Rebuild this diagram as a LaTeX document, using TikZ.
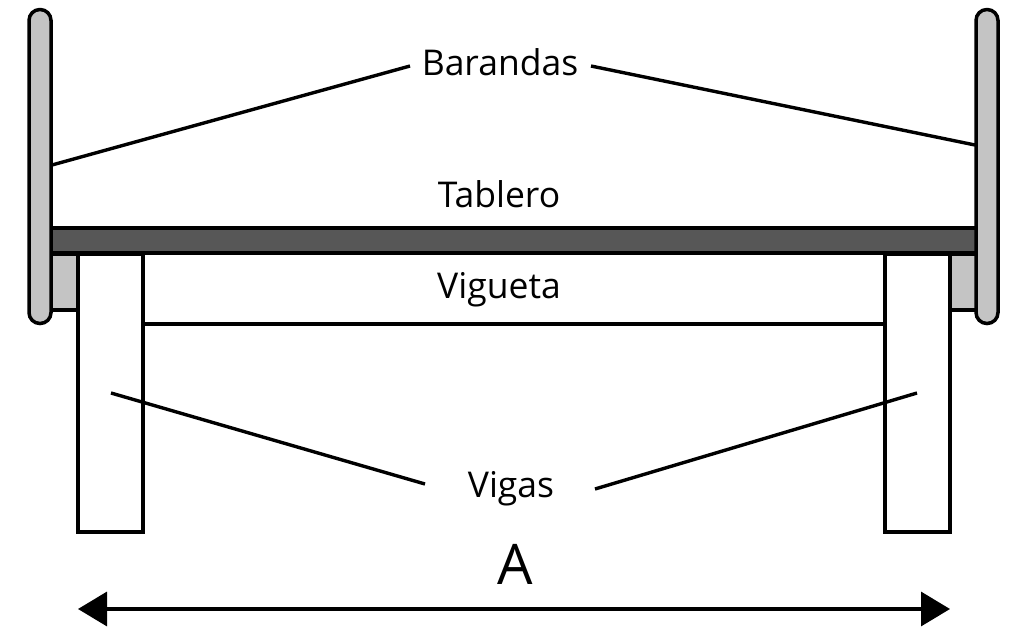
\documentclass[tikz,border=0pt]{standalone}
\usepackage{fontspec}
\setmainfont{Open Sans}
\usetikzlibrary{arrows.meta}
\definecolor{railgrey}{HTML}{C4C4C4}
\definecolor{deckgrey}{HTML}{575757}
\tikzset{
  part/.style={draw=black,line width=3.5pt,line join=miter},
  leader/.style={draw=black,line width=3.4pt},
  lab/.style={inner sep=0pt,font=\fontsize{35.5}{36}\selectfont,text=black},
  dim/.style={draw=black,line width=3.4pt,{Triangle[length=29pt,width=34pt]}-{Triangle[length=29pt,width=34pt]}}
}
\begin{document}
\begin{tikzpicture}[x=1pt,y=-1pt]
\useasboundingbox (0,0) rectangle (1021,627);
% small blocks
\path[part,fill=railgrey] (50,254) rectangle (78,310);
\path[part,fill=railgrey] (950,254) rectangle (977,310);
% beams
\path[part,fill=white] (78,254) rectangle (143,532);
\path[part,fill=white] (885,254) rectangle (950,532);
% deck
\path[part,fill=deckgrey] (50,228) rectangle (977,253);
% rails
\path[part,fill=railgrey,rounded corners=10.9pt] (29,9.5) rectangle (51,323.5);
\path[part,fill=railgrey,rounded corners=10.9pt] (976,9.5) rectangle (998,323.5);
% joist
\coordinate (jl) at (143,324);
\coordinate (jr) at (885,324);
\draw[leader] (jl) -- (jr);
% labels
\node[lab] (barandas) at (500,62) {Barandas};
\node[lab] (tablero) at (499,194) {Tablero};
\node[lab] (vigueta) at (499,290) {Vigueta};
\node[lab] (vigas) at (511,489) {Vigas};
\node[lab,font=\fontsize{56}{56}\selectfont] (a) at (515,564) {A};
% leaders
\coordinate (bl0) at (410,66);
\coordinate (bl1) at (52,165);
\coordinate (br0) at (591,66);
\coordinate (br1) at (975,145);
\coordinate (vl0) at (425,484);
\coordinate (vl1) at (111,393);
\coordinate (vr0) at (595,489);
\coordinate (vr1) at (917,393);
\draw[leader] (bl0) -- (bl1);
\draw[leader] (br0) -- (br1);
\draw[leader] (vl0) -- (vl1);
\draw[leader] (vr0) -- (vr1);
% dimension
\coordinate (dl) at (78,609);
\coordinate (dr) at (950,609);
\draw[dim] (dl) -- (dr);
\end{tikzpicture}
\end{document}
